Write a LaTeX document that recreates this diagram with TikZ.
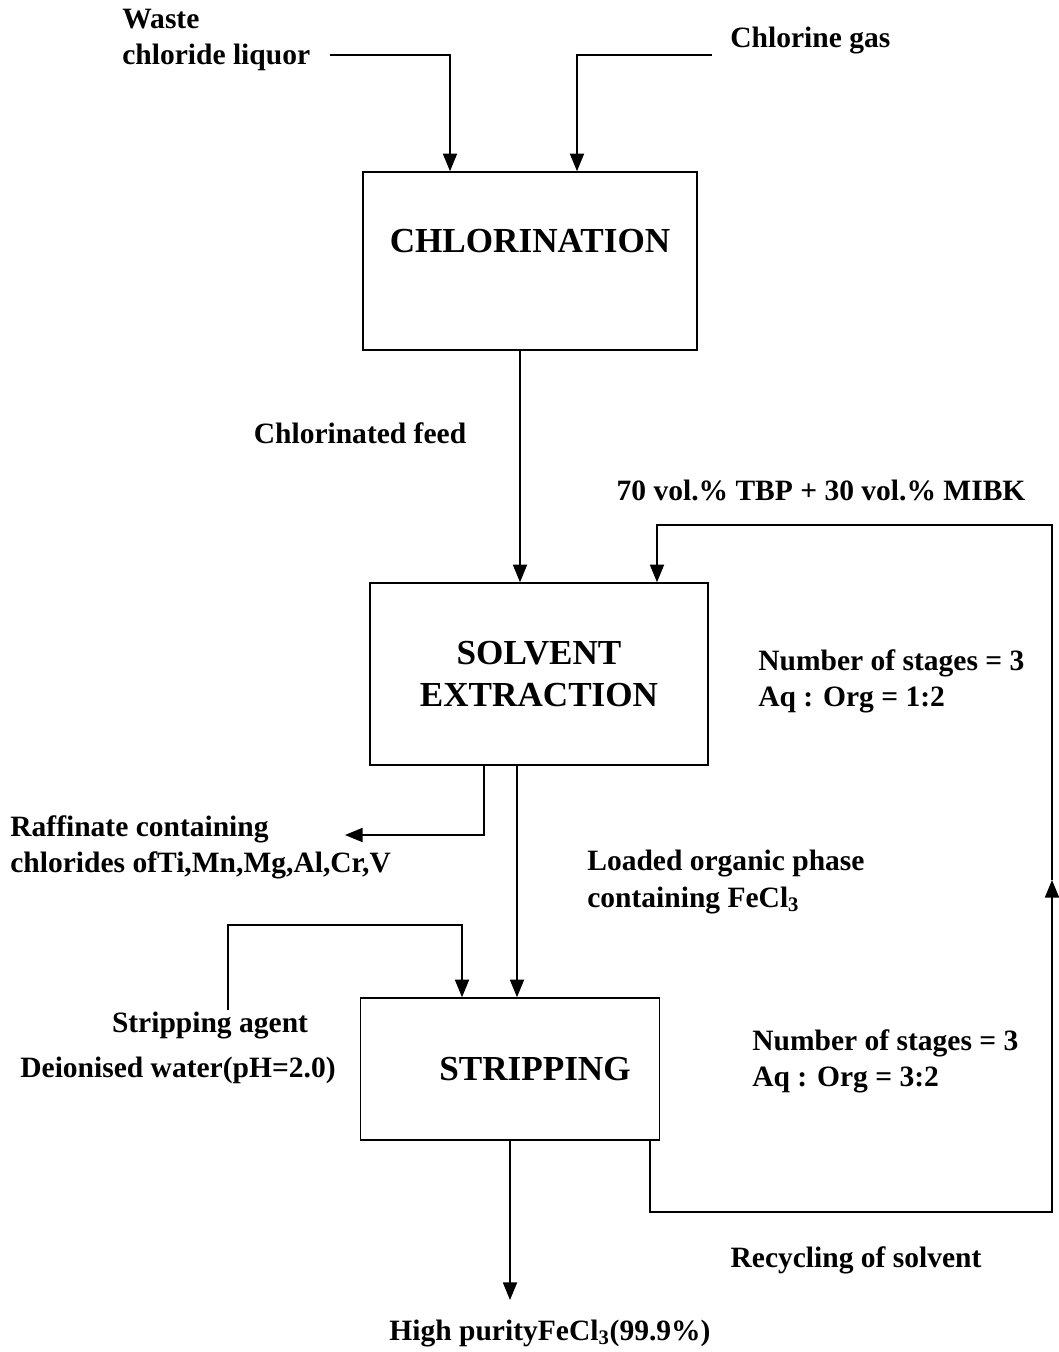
\documentclass[tikz,border=0pt]{standalone}
\usepackage{fontspec}
\setmainfont{Liberation Serif}
\usetikzlibrary{arrows.meta,positioning}
\tikzset{
  unit/.style={draw, line width=0.9pt, font=\fontsize{20}{24}\selectfont\bfseries, align=center},
  lbl/.style={font=\fontsize{16.8}{20.5}\selectfont\bfseries, align=left, inner sep=0pt},
  flow/.style={line width=0.9pt, -{Triangle[length=10pt,width=8pt]}},
  pipe/.style={line width=0.9pt}
}
\begin{document}
\begin{tikzpicture}[x=0.02cm,y=-0.02cm]
 \useasboundingbox (0,0) rectangle (1058,1352);
 % process units
 \node[unit, minimum width=6.68cm, minimum height=3.56cm, text depth=0.8cm] (chlor) at (530,261) {CHLORINATION};
 \node[unit, minimum width=6.76cm, minimum height=3.64cm] (sx) at (539,674) {SOLVENT\\EXTRACTION};
 \node[unit, minimum width=5.98cm, minimum height=2.84cm] (strip) at (510,1069) {\hspace*{1cm}STRIPPING};
 % labels
 \node[lbl, anchor=west] (waste) at (122,40) {Waste\\chloride liquor};
 \node[lbl, anchor=west] (cl2) at (730,41) {Chlorine gas};
 \node[lbl] (feed) at (360,433) {Chlorinated feed};
 \node[lbl] (tbp) at (821,490) {70 vol.\% TBP + 30 vol.\% MIBK};
 \node[lbl, anchor=west] (sxcond) at (758,681) {Number of stages = 3\\Aq : Org = 1:2};
 \node[lbl, anchor=west] (raff) at (10,847) {Raffinate containing\\chlorides ofTi,Mn,Mg,Al,Cr,V};
 \node[lbl, anchor=west] (loaded) at (587,882) {Loaded organic phase\\containing FeCl\textsubscript{3}};
 \node[lbl] (agent) at (210,1026) {Stripping agent};
 \node[lbl, anchor=west] (dwater) at (20,1070) {Deionised water(pH=2.0)};
 \node[lbl, anchor=west] (stcond) at (752,1061) {Number of stages = 3\\Aq : Org = 3:2};
 \node[lbl] (recyc) at (856,1260) {Recycling of solvent};
 \node[lbl] (prod) at (550,1333) {High purityFeCl\textsubscript{3}(99.9\%)};
 % free ends and turning points
 \coordinate (wasteend) at (330,55);
 \coordinate (wasteturn) at (450,55);
 \coordinate (cl2end) at (712,55);
 \coordinate (cl2turn) at (577,55);
 \coordinate (feedx) at (520,0);
 \coordinate (solvx) at (657,525);
 \coordinate (rafx) at (484,0);
 \coordinate (raffend) at (345,835);
 \coordinate (loadx) at (517,0);
 \coordinate (agentend) at (228,1010);
 \coordinate (agenttop) at (228,925);
 \coordinate (agentx) at (462,925);
 \coordinate (prodend) at (510,1300);
 \coordinate (recx) at (650,0);
 \coordinate (recbot) at (1052,1212);
 \coordinate (recmid) at (1052,880);
 \coordinate (rectop) at (1052,525);
 % streams
 \draw[flow] (wasteend) -| (chlor.north -| wasteturn);
 \draw[flow] (cl2end) -| (chlor.north -| cl2turn);
 \draw[flow] (chlor.south -| feedx) -- (sx.north -| feedx);
 \draw[flow] (sx.south -| rafx) |- (raffend);
 \draw[flow] (sx.south -| loadx) -- (strip.north -| loadx);
 \draw[flow] (agentend) -- (agenttop) -| (strip.north -| agentx);
 \draw[flow] (strip.south -| prodend) -- (prodend);
 % solvent recycle
 \draw[flow] (strip.south -| recx) |- (recbot) -- (recmid);
 \draw[flow] (recmid) -- (rectop) -| (sx.north -| solvx);
\end{tikzpicture}
\end{document}
